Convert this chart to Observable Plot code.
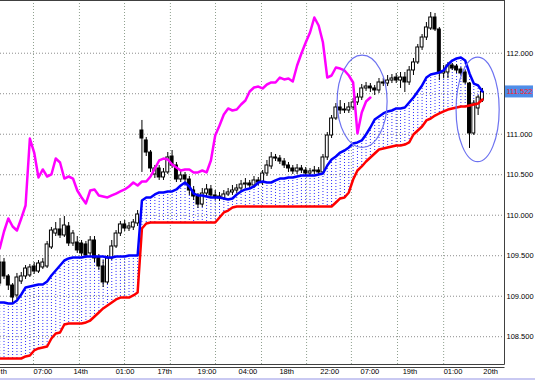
<!DOCTYPE html>
<html><head><meta charset="utf-8">
<script src="https://cdn.jsdelivr.net/npm/d3@7"></script>
<script src="https://cdn.jsdelivr.net/npm/@observablehq/plot@0.6"></script>
<style>
html,body{margin:0;padding:0;background:#fff;}
#chart svg{display:block;}
</style></head><body><div id="chart"></div>
<script>
// ---- candle data (one entry per bar) ----
const open = [109.157,109.416,109.244,109.132,109.009,109.182,109.244,109.256,109.367,109.305,
109.355,109.367,109.602,109.774,109.824,109.750,109.861,109.651,109.663,109.651,
109.639,109.528,109.688,109.478,109.367,109.170,109.466,109.614,109.774,109.886,
109.836,109.849,109.898,111.046,110.923,110.774,110.503,110.577,110.466,110.528,
110.725,110.614,110.441,110.491,110.441,110.305,110.231,110.132,110.268,110.318,
110.244,110.231,110.207,110.256,110.281,110.305,110.330,110.379,110.392,110.367,
110.429,110.404,110.515,110.602,110.713,110.700,110.663,110.614,110.577,110.540,
110.577,110.552,110.515,110.540,110.552,110.528,110.713,110.984,111.194,111.330,
111.293,111.293,111.330,111.392,111.453,111.565,111.589,111.565,111.540,111.639,
111.626,111.663,111.700,111.663,111.700,111.639,111.787,111.886,112.071,112.194,
112.305,112.441,112.293,111.750,111.762,111.849,111.836,111.799,111.762,111.626,
111.009,111.318,111.416];
const high = [109.491,109.466,109.268,109.157,109.281,109.293,109.379,109.392,109.416,109.441,
109.466,109.676,109.849,109.910,109.960,109.984,109.910,109.811,109.737,109.688,
109.676,109.737,109.737,109.515,109.441,109.503,109.688,109.811,109.923,109.935,
109.910,109.947,110.058,111.170,110.960,110.799,110.614,110.614,110.577,110.774,
110.799,110.651,110.552,110.528,110.478,110.355,110.268,110.330,110.379,110.367,
110.305,110.281,110.305,110.330,110.367,110.379,110.429,110.453,110.429,110.478,
110.466,110.552,110.676,110.774,110.750,110.737,110.700,110.651,110.614,110.626,
110.614,110.589,110.577,110.602,110.589,110.750,111.021,111.231,111.379,111.416,
111.379,111.392,111.441,111.503,111.614,111.639,111.626,111.602,111.688,111.688,
111.725,111.737,111.750,111.762,111.762,111.836,111.935,112.108,112.231,112.379,
112.503,112.491,112.318,111.849,111.886,111.873,111.861,111.824,111.787,111.639,
111.416,111.478,111.565];
const low = [109.120,109.207,109.071,108.910,108.960,109.145,109.207,109.231,109.268,109.281,
109.330,109.342,109.577,109.737,109.713,109.725,109.614,109.614,109.528,109.491,
109.466,109.491,109.416,109.318,109.108,109.145,109.441,109.589,109.737,109.799,
109.799,109.811,109.861,110.528,110.725,110.528,110.453,110.429,110.429,110.503,
110.577,110.404,110.404,110.367,110.244,110.182,110.083,110.095,110.219,110.207,
110.182,110.170,110.182,110.231,110.244,110.268,110.293,110.330,110.330,110.330,
110.367,110.367,110.478,110.565,110.663,110.626,110.577,110.528,110.503,110.503,
110.515,110.478,110.491,110.503,110.491,110.503,110.676,110.947,111.170,111.244,
111.256,111.256,111.293,111.355,111.416,111.528,111.515,111.478,111.503,111.589,
111.589,111.626,111.626,111.565,111.515,111.602,111.725,111.861,112.034,112.157,
112.281,112.268,111.663,111.688,111.688,111.787,111.750,111.725,111.614,110.824,
110.984,111.231,111.392];
const close = [109.416,109.244,109.132,108.984,109.231,109.244,109.342,109.355,109.305,109.404,
109.416,109.639,109.811,109.824,109.750,109.873,109.651,109.774,109.565,109.528,
109.503,109.688,109.466,109.367,109.170,109.466,109.614,109.774,109.886,109.836,
109.861,109.910,110.009,110.947,110.774,110.577,110.577,110.466,110.528,110.713,
110.614,110.441,110.491,110.441,110.305,110.231,110.132,110.268,110.318,110.244,
110.219,110.207,110.256,110.281,110.305,110.330,110.379,110.392,110.367,110.429,
110.404,110.515,110.614,110.713,110.700,110.663,110.614,110.577,110.540,110.577,
110.552,110.515,110.540,110.552,110.528,110.713,110.984,111.194,111.330,111.293,
111.305,111.330,111.392,111.453,111.565,111.589,111.565,111.540,111.639,111.626,
111.663,111.688,111.663,111.700,111.639,111.787,111.886,112.071,112.194,112.318,
112.441,112.293,111.750,111.774,111.849,111.811,111.787,111.750,111.639,111.009,
111.379,111.453,111.522];

// ---- Ichimoku cloud spans (same bars) ----
const spanA = [108.923,108.923,108.910,108.910,108.947,109.021,109.108,109.120,109.132,109.145,
109.145,109.182,109.256,109.318,109.379,109.441,109.466,109.478,109.478,109.478,
109.491,109.491,109.491,109.491,109.491,109.478,109.478,109.491,109.491,109.491,
109.503,109.503,109.503,110.182,110.219,110.219,110.256,110.281,110.281,110.293,
110.293,110.318,110.367,110.404,110.355,110.268,110.244,110.244,110.231,110.219,
110.219,110.219,110.207,110.194,110.207,110.256,110.293,110.318,110.330,110.355,
110.404,110.416,110.404,110.404,110.429,110.453,110.453,110.466,110.466,110.478,
110.491,110.491,110.491,110.491,110.503,110.515,110.614,110.688,110.725,110.774,
110.799,110.836,110.886,110.898,110.923,110.997,111.083,111.182,111.219,111.256,
111.281,111.293,111.318,111.318,111.330,111.392,111.453,111.528,111.602,111.700,
111.737,111.750,111.762,111.787,111.861,111.910,111.935,111.947,111.910,111.750,
111.626,111.602,111.528];
const spanB = [108.231,108.231,108.231,108.231,108.231,108.231,108.256,108.268,108.330,108.355,
108.367,108.379,108.478,108.540,108.552,108.651,108.663,108.663,108.663,108.663,
108.676,108.700,108.750,108.799,108.849,108.886,108.923,108.960,108.984,108.984,
108.984,109.009,109.046,109.836,109.898,109.910,109.910,109.910,109.910,109.910,
109.910,109.910,109.910,109.910,109.910,109.910,109.910,109.910,109.910,109.910,
109.910,109.972,110.034,110.058,110.095,110.108,110.108,110.108,110.108,110.108,
110.108,110.108,110.108,110.108,110.108,110.108,110.108,110.108,110.108,110.108,
110.108,110.108,110.108,110.108,110.108,110.108,110.108,110.108,110.157,110.207,
110.219,110.281,110.441,110.552,110.602,110.663,110.713,110.762,110.811,110.824,
110.836,110.849,110.861,110.861,110.873,110.898,110.997,111.046,111.095,111.170,
111.194,111.231,111.256,111.281,111.305,111.318,111.330,111.342,111.342,111.355,
111.367,111.379,111.429];

// ---- lagging span (starts at the first bar) ----
const lagging = [109.589,109.799,109.960,109.861,109.811,109.960,110.120,110.947,110.774,110.466,
110.565,110.478,110.503,110.700,110.651,110.453,110.478,110.453,110.305,110.219,
110.145,110.305,110.318,110.244,110.231,110.219,110.244,110.268,110.293,110.318,
110.355,110.404,110.367,110.416,110.416,110.478,110.577,110.676,110.700,110.688,
110.626,110.589,110.552,110.565,110.565,110.528,110.528,110.552,110.528,110.676,
110.984,111.108,111.244,111.318,111.293,111.305,111.367,111.416,111.528,111.577,
111.589,111.565,111.614,111.639,111.639,111.700,111.676,111.688,111.651,111.849,
111.997,112.132,112.256,112.441,112.342,112.132,111.700,111.725,111.824,111.811,
111.787,111.725,111.639,111.009,111.268,111.404,111.453];

// ---- axes ----
const gridPrices = [108.5, 109.0, 109.5, 110.0, 110.5, 111.0, 111.5, 112.0];
const priceLabels = [108.5, 109.0, 109.5, 110.0, 110.5, 111.0, 112.0];
const lastPrice = 111.522;
const timeLabels = ["th","07:00","14th","01:00","17th","19:00","04:00","18th","22:00","07:00","19th","01:00","20th"];
const timeLabelBars = [0.2, 7.84, 17.1, 26.9, 36.6, 45.9, 55.4, 64.9, 74.4, 83.7, 93.5, 103.0, 112.2];
const gridBars = [7.84, 18.5, 28.96, 39.6, 50.07, 60.74, 71.2, 81.6, 92.3, 103.0];

// ---- annotation ellipses (centre bar, centre price, radius in bars, radius in price) ----
const ellipses = [
  {bar: 84.2, price: 111.40, rBars: 5.8, rPrice: 0.57},
  {bar: 111.0, price: 111.30, rBars: 5.0, rPrice: 0.645}
];

const candles = close.map((c, i) => ({i, open: open[i], high: high[i], low: low[i], close: c}));
const cloud = spanA.map((a, i) => ({i, a, b: spanB[i]}));
const lag = lagging.map((v, i) => ({i, v}));
const ticks = timeLabels.map((label, k) => ({label, bar: timeLabelBars[k]}));

const FONT = "'Liberation Sans', Arial, sans-serif";

function ellipseMark(index, scales, values, dimensions) {
  const g = d3.create("svg:g");
  for (const e of ellipses) {
    const cx = scales.x(e.bar), cy = scales.y(e.price);
    const rx = Math.abs(scales.x(e.bar + e.rBars) - cx);
    const ry = Math.abs(scales.y(e.price + e.rPrice) - cy);
    g.append("ellipse").attr("cx", cx).attr("cy", cy).attr("rx", rx).attr("ry", ry)
      .attr("fill", "none").attr("stroke", "#6d72f0").attr("stroke-width", 1.2);
  }
  return g.node();
}

function frameMark(index, scales, values, dimensions) {
  const {width, height, marginRight, marginBottom} = dimensions;
  const r = width - marginRight, b = height - marginBottom;
  const g = d3.create("svg:g").attr("fill", "none").attr("stroke", "#404040");
  g.append("line").attr("x1", 0).attr("x2", r + 0.5).attr("y1", 0.5).attr("y2", 0.5);
  g.append("line").attr("x1", r + 0.5).attr("x2", r + 0.5).attr("y1", 0).attr("y2", b + 0.5);
  g.append("line").attr("x1", 0).attr("x2", r + 0.5).attr("y1", b + 0.5).attr("y2", b + 0.5);
  g.append("line").attr("x1", 0).attr("x2", r + 0.5).attr("y1", b + 3.5).attr("y2", b + 3.5);
  g.append("line").attr("x1", 0).attr("x2", width).attr("y1", height - 1).attr("y2", height - 1)
    .attr("stroke", "#c9c9f2").attr("stroke-width", 2);
  return g.node();
}

function priceBox(index, scales, values, dimensions) {
  const {width, marginRight} = dimensions;
  const y = scales.y(lastPrice);
  const g = d3.create("svg:g");
  g.append("rect").attr("x", width - marginRight + 1).attr("y", y - 6).attr("width", 28).attr("height", 12)
    .attr("fill", "#4f8de8");
  return g.node();
}

const chart = Plot.plot({
  width: 535,
  height: 380,
  marginLeft: 0,
  marginRight: 31,
  marginTop: 0,
  marginBottom: 16,
  x: {domain: [0.186, 117.12], axis: null},
  y: {domain: [108.157, 112.651], axis: null},
  style: {background: "#ffffff", fontFamily: FONT},
  marks: [
    Plot.ruleY(gridPrices, {stroke: "#8c8c8c", strokeDasharray: "1,2"}),
    Plot.ruleX(gridBars, {stroke: "#8fa08f", strokeDasharray: "1,2"}),
    Plot.ruleX(cloud, {x: "i", y1: "a", y2: "b", stroke: "#2a2aff", strokeDasharray: "1,2", clip: true}),
    Plot.ruleX(candles, {x: "i", y1: "low", y2: "high", stroke: "#000000", clip: true}),
    Plot.rect(candles, {
      x1: d => d.i - 0.34, x2: d => d.i + 0.34, y1: "open", y2: "close",
      fill: d => (d.close >= d.open ? "#ffffff" : "#000000"), stroke: "#000000", clip: true
    }),
    Plot.line(lag, {x: "i", y: "v", stroke: "#ff00ff", strokeWidth: 2.5, clip: true}),
    Plot.line(cloud, {x: "i", y: "b", stroke: "#ff0000", strokeWidth: 2.5, clip: true}),
    Plot.line(cloud, {x: "i", y: "a", stroke: "#0000ff", strokeWidth: 2.5, clip: true}),
    ellipseMark,
    frameMark,
    Plot.text(priceLabels, {y: d => d, text: d => d.toFixed(3), frameAnchor: "right", dx: 2,
      textAnchor: "start", fontSize: 7.5, fill: "#000000"}),
    priceBox,
    Plot.text([lastPrice], {y: d => d, text: d => d.toFixed(3), frameAnchor: "right", dx: 2,
      textAnchor: "start", fontSize: 7.5, fill: "#ff1a1a"}),
    Plot.text(ticks, {x: "bar", text: "label", frameAnchor: "bottom", dy: 9,
      textAnchor: "start", fontSize: 7.5, fill: "#000000"})
  ]
});
document.getElementById("chart").appendChild(chart);
</script>
</body></html>
